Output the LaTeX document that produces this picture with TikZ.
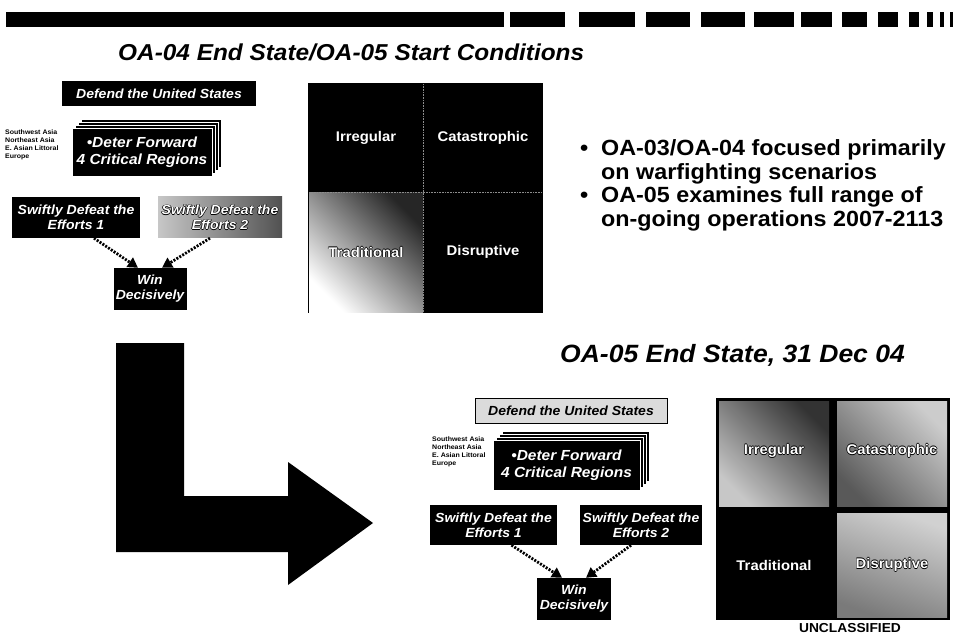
\documentclass[tikz,border=0pt]{standalone}
\usepackage{fontspec}
\setmainfont{Liberation Sans}[FakeStretch=1.06]
\usetikzlibrary{arrows.meta}

% white lettering with a thin dark rim, for labels set on grey
\newcommand\rimmed[1]{\leavevmode
  \rlap{\raisebox{0.7pt}{\color{black}#1}}\rlap{\raisebox{-0.7pt}{\color{black}#1}}%
  \rlap{\hspace{0.7pt}\color{black}#1}\rlap{\hspace{-0.7pt}\color{black}#1}#1}

\begin{document}
\begin{tikzpicture}[x=1pt,y=-1pt,
  boxtext/.style={font=\fontsize{13.2}{15}\selectfont\bfseries\itshape, align=center, inner sep=0pt},
  blackbox/.style={boxtext, fill=black, text=white},
  greybox/.style={boxtext, draw=black, line width=0.8pt, fill=black!14, text=black},
  stackfront/.style={blackbox, draw=white, line width=0.6pt, font=\fontsize{14.6}{17}\selectfont\bfseries\itshape},
  quadlabel/.style={font=\fontsize{14}{16}\selectfont\bfseries, text=white, inner sep=0pt},
  regionlist/.style={font=\fontsize{6.6}{7.9}\selectfont\bfseries, align=left, anchor=north west, inner sep=0pt},
  titletext/.style={font=\fontsize{23}{26}\selectfont\bfseries\itshape, anchor=west, inner sep=0pt},
  bullettext/.style={font=\fontsize{22}{25}\selectfont\bfseries, anchor=west, inner sep=0pt},
  dotarrow/.style={line width=2.8pt, dash pattern=on 2pt off 1.4pt, -{Triangle[length=10pt,width=11pt]}},
  sheet/.style={fill=black, draw=white, line width=0.6pt}
]
\useasboundingbox (0,0) rectangle (953,639);

% header bar
\foreach \a/\b in {6/504,510/565,579/635,646/690,701/745,754/794,801/832,842/867,878/898,909/919,927/933,940/944,950/953}
  \fill (\a,12) rectangle (\b,27);

% ---------------- upper panel ----------------
\node[titletext] (t1) at (118,52) {OA-04 End State/OA-05 Start Conditions};

\node[blackbox, minimum width=194pt, minimum height=25pt] (def1) at (159,93.5) {Defend the United States};

\node[regionlist] (reg1) at (5,130) {Southwest Asia\\Northeast Asia\\E. Asian Littoral\\Europe};

\foreach \d in {9,6,3}
  \draw[sheet] (72+\d,128-\d) rectangle (212+\d,176-\d);
\node[stackfront, minimum width=140pt, minimum height=48pt] (det1) at (142,152) {•Deter Forward\\4 Critical Regions};

\node[blackbox, minimum width=128pt, minimum height=41pt] (sw1) at (76,217.5) {Swiftly Defeat the\\Efforts 1};
\node[boxtext, left color=black!22, right color=black!68, text=white, minimum width=124pt, minimum height=41pt] (sw2) at (220,217.5) {\rimmed{Swiftly Defeat the}\\\rimmed{Efforts 2}};
\node[blackbox, minimum width=73pt, minimum height=42pt] (win1) at (150,289) {Win\\Decisively};

\draw[dotarrow] ([xshift=18pt]sw1.south) -- ([xshift=-12pt]win1.north);
\draw[dotarrow] ([xshift=-10pt]sw2.south) -- ([xshift=12pt]win1.north);

% threat matrix, start conditions
\fill (308,83) rectangle (543,313);
\shade[shading=axis, top color=black!85, bottom color=white, shading angle=-45] (309,193) rectangle (423,312);
\draw[black!45, line width=0.6pt, densely dotted] (423,84) -- (423,312);
\draw[black!45, line width=0.6pt, densely dotted] (309,192) -- (542,192);
\node[quadlabel] (q1) at (366,138) {Irregular};
\node[quadlabel] (q2) at (483,138) {Catastrophic};
\node[quadlabel] (q3) at (366,252) {\rimmed{Traditional}};
\node[quadlabel] (q4) at (483,252) {Disruptive};

% summary bullets
\node[bullettext] (b1) at (580,150) {•};
\node[bullettext] (l1) at (601,150) {OA-03/OA-04 focused primarily};
\node[bullettext] (l2) at (601,173.5) {on warfighting scenarios};
\node[bullettext] (b2) at (580,197) {•};
\node[bullettext] (l3) at (601,197) {OA-05 examines full range of};
\node[bullettext] (l4) at (601,220.5) {on-going operations 2007-2113};

% ---------------- transition arrow ----------------
\fill (116,343) -- (184,343) -- (184,496) -- (288,496) -- (288,462) -- (373,523)
      -- (288,585) -- (288,552) -- (116,552) -- cycle;

% ---------------- lower panel ----------------
\node[titletext, font=\fontsize{25}{28}\selectfont\bfseries\itshape] (t2) at (560,355) {OA-05 End State, 31 Dec 04};

\node[greybox, minimum width=192pt, minimum height=25pt] (def2) at (571,410.5) {Defend the United States};

\node[regionlist] (reg2) at (432,437) {Southwest Asia\\Northeast Asia\\E. Asian Littoral\\Europe};

\foreach \d in {9,6,3}
  \draw[sheet] (493+\d,440-\d) rectangle (640+\d,490-\d);
\node[stackfront, minimum width=147pt, minimum height=50pt] (det2) at (566.5,465) {•Deter Forward\\4 Critical Regions};

\node[blackbox, minimum width=127pt, minimum height=40pt] (sw3) at (493.5,525) {Swiftly Defeat the\\Efforts 1};
\node[blackbox, minimum width=122pt, minimum height=40pt] (sw4) at (641,525) {Swiftly Defeat the\\Efforts 2};
\node[blackbox, minimum width=74pt, minimum height=42pt] (win2) at (574,599) {Win\\Decisively};

\draw[dotarrow] ([xshift=18pt]sw3.south) -- ([xshift=-12pt]win2.north);
\draw[dotarrow] ([xshift=-10pt]sw4.south) -- ([xshift=12pt]win2.north);

% threat matrix, end state
\fill (716,398) rectangle (950,620);
\shade[shading=axis, top color=black!80, bottom color=black!22, shading angle=-45] (719,401) rectangle (829,506);
\shade[shading=axis, top color=black!20, bottom color=black!65, shading angle=-45] (837,401) rectangle (947,506);
\shade[shading=axis, top color=black!18, bottom color=black!52, shading angle=-20] (837,513) rectangle (947,617);
\node[quadlabel] (r1) at (774,451) {\rimmed{Irregular}};
\node[quadlabel] (r2) at (892,451) {\rimmed{Catastrophic}};
\node[quadlabel] (r3) at (774,565) {Traditional};
\node[quadlabel] (r4) at (892,565) {\rimmed{Disruptive}};

\node[font=\fontsize{13}{15}\selectfont\bfseries, inner sep=0pt] (unc) at (850,628) {UNCLASSIFIED};
\end{tikzpicture}
\end{document}
